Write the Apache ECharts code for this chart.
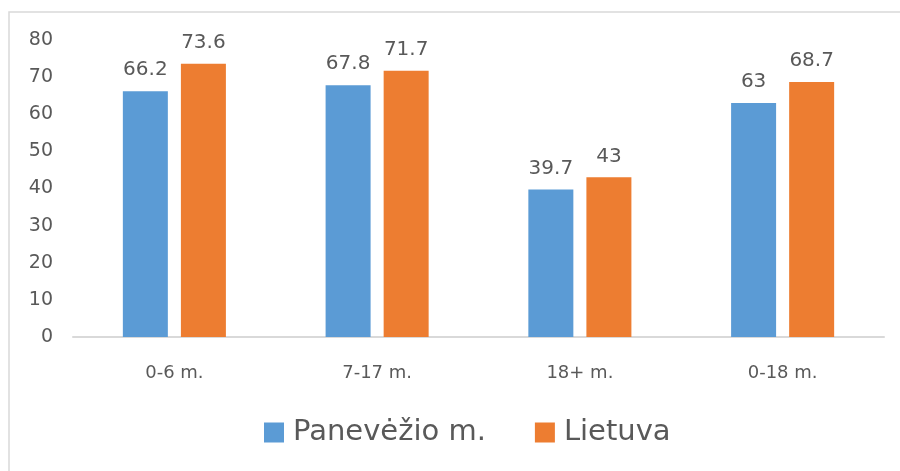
<!DOCTYPE html>
<html><head><meta charset="utf-8">
<script src="https://cdn.jsdelivr.net/npm/echarts@6/dist/echarts.min.js"></script>
<style>html,body{margin:0;padding:0;background:#fff}#c{width:900px;height:471px}</style>
</head><body><div id="c"></div>
<script>
const categories = ['0-6 m.', '7-17 m.', '18+ m.', '0-18 m.'];
const seriesNames = ['Panevėžio m.', 'Lietuva'];
const panevezio = [66.2, 67.8, 39.7, 63];
const lietuva = [73.6, 71.7, 43, 68.7];
const yTicks = { min: 0, max: 80, interval: 10 };

const txt = '#595959';
const font = 'DejaVu Sans';
const chart = echarts.init(document.getElementById('c'));
const lbl = { show: true, position: 'top', distance: 11, color: txt, fontFamily: font, fontSize: 20 };
chart.setOption({
  animation: false,
  graphic: [{ type: 'rect', shape: { x: 9, y: 12, width: 1000, height: 600 }, style: { fill: 'none', stroke: '#d9d9d9', lineWidth: 1.5 } }],
  grid: { left: 73, right: 16, top: 40, bottom: 134 },
  legend: {
    left: 259, top: 413, itemWidth: 20, itemHeight: 20, itemGap: 49, icon: 'rect',
    textStyle: { color: txt, fontFamily: font, fontSize: 29, padding: [0, 0, 0, 4] },
    data: seriesNames
  },
  xAxis: {
    type: 'category', data: categories,
    axisLine: { lineStyle: { color: '#d9d9d9', width: 2 } },
    axisTick: { show: false },
    axisLabel: { color: txt, fontFamily: font, fontSize: 18, margin: 27 }
  },
  yAxis: {
    type: 'value', min: yTicks.min, max: yTicks.max, interval: yTicks.interval,
    splitLine: { show: false }, axisLine: { show: false }, axisTick: { show: false },
    axisLabel: { color: txt, fontFamily: font, fontSize: 19, margin: 20 }
  },
  series: [
    { name: seriesNames[0], type: 'bar', data: panevezio, barWidth: 45, barGap: '29%', itemStyle: { color: '#5B9BD5' }, label: lbl },
    { name: seriesNames[1], type: 'bar', data: lietuva, barWidth: 45, itemStyle: { color: '#ED7D31' }, label: lbl }
  ]
});
</script></body></html>
